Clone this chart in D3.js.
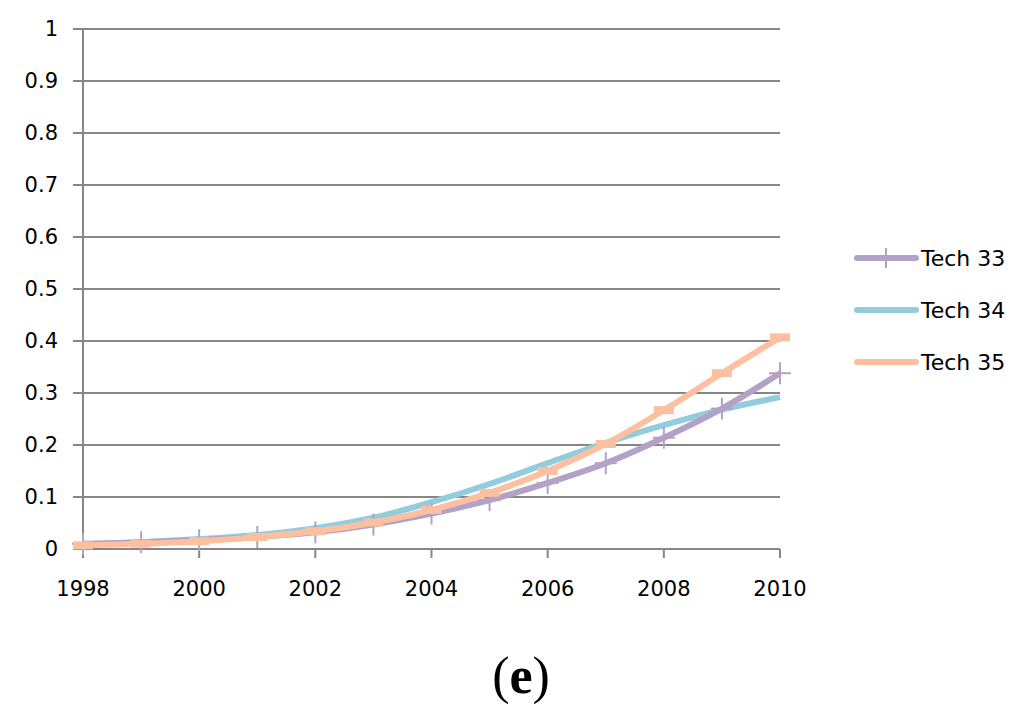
<!DOCTYPE html>
<html>
<head>
<meta charset="utf-8">
<script src="https://cdn.jsdelivr.net/npm/d3@7"></script>
<style>
  body { margin: 0; background: #fff; }
</style>
</head>
<body>
<div id="chart"></div>
<script>
// data
var years = [1998, 1999, 2000, 2001, 2002, 2003, 2004, 2005, 2006, 2007, 2008, 2009, 2010];
var tech33 = [0.010, 0.013, 0.017, 0.023, 0.032, 0.047, 0.068, 0.094, 0.127, 0.165, 0.214, 0.270, 0.338];
var tech34 = [0.008, 0.013, 0.019, 0.027, 0.040, 0.060, 0.090, 0.125, 0.165, 0.204, 0.238, 0.268, 0.292];
var tech35 = [0.007, 0.010, 0.015, 0.023, 0.034, 0.051, 0.075, 0.108, 0.150, 0.202, 0.267, 0.338, 0.407];
var yTicks = [0, 0.1, 0.2, 0.3, 0.4, 0.5, 0.6, 0.7, 0.8, 0.9, 1];
var xTicks = [1998, 2000, 2002, 2004, 2006, 2008, 2010];
var seriesNames = ["Tech 33", "Tech 34", "Tech 35"];

var width = 1024, height = 722;
var plotLeft = 83, plotRight = 780, plotTop = 29, plotBottom = 549;
var sans = "DejaVu Sans, sans-serif";

var svg = d3.select("#chart").append("svg")
  .attr("width", width)
  .attr("height", height);

var x = d3.scaleLinear().domain([1998, 2010]).range([plotLeft, plotRight]);
var y = d3.scaleLinear().domain([0, 1]).range([plotBottom, plotTop]);

// gridlines
svg.append("g")
  .selectAll("line")
  .data(yTicks)
  .enter()
  .append("line")
  .attr("x1", plotLeft - 10)
  .attr("x2", plotRight)
  .attr("y1", d => y(d))
  .attr("y2", d => y(d))
  .attr("stroke", "#868686")
  .attr("stroke-width", 2);

// y axis line
svg.append("line")
  .attr("x1", plotLeft).attr("x2", plotLeft)
  .attr("y1", plotTop).attr("y2", plotBottom)
  .attr("stroke", "#868686")
  .attr("stroke-width", 2);

// x ticks
svg.append("g")
  .selectAll("line")
  .data(xTicks)
  .enter()
  .append("line")
  .attr("x1", d => x(d)).attr("x2", d => x(d))
  .attr("y1", plotBottom).attr("y2", plotBottom + 9)
  .attr("stroke", "#868686")
  .attr("stroke-width", 2);

// y labels
svg.append("g")
  .selectAll("text")
  .data(yTicks)
  .enter()
  .append("text")
  .attr("x", 58)
  .attr("y", d => y(d) + 7)
  .attr("text-anchor", "end")
  .attr("font-family", sans)
  .attr("font-size", 21)
  .attr("fill", "#000")
  .text(d => d3.format("~g")(d));

// x labels
svg.append("g")
  .selectAll("text")
  .data(xTicks)
  .enter()
  .append("text")
  .attr("x", d => x(d))
  .attr("y", 596)
  .attr("text-anchor", "middle")
  .attr("font-family", sans)
  .attr("font-size", 21)
  .attr("fill", "#000")
  .text(d => d);

var colors = ["#b3a2c7", "#93cddd", "#fcbf9f"];
var allSeries = [tech33, tech34, tech35];

var line = d3.line()
  .x((d, i) => x(years[i]))
  .y(d => y(d))
  .curve(d3.curveCatmullRom.alpha(0.5));

// draw order: blue, purple, orange on top
[1, 0, 2].forEach(function(s) {
  svg.append("path")
    .datum(allSeries[s])
    .attr("d", line)
    .attr("fill", "none")
    .attr("stroke", colors[s])
    .attr("stroke-width", 6);

  if (s === 0) {
    var g = svg.append("g");
    allSeries[s].forEach(function(v, i) {
      g.append("line")
        .attr("x1", x(years[i])).attr("x2", x(years[i]))
        .attr("y1", y(v) - 11).attr("y2", y(v) + 11)
        .attr("stroke", colors[s]).attr("stroke-width", 2);
      g.append("line")
        .attr("x1", x(years[i]) - 11).attr("x2", x(years[i]) + 11)
        .attr("y1", y(v)).attr("y2", y(v))
        .attr("stroke", colors[s]).attr("stroke-width", 2);
    });
  }
  if (s === 2) {
    svg.append("g")
      .selectAll("rect")
      .data(allSeries[s])
      .enter()
      .append("rect")
      .attr("x", (d, i) => x(years[i]) - 10)
      .attr("y", d => y(d) - 4)
      .attr("width", 20)
      .attr("height", 8)
      .attr("fill", colors[s]);
  }
});

// legend
var legend = svg.append("g");
seriesNames.forEach(function(name, i) {
  var ly = 258 + i * 52;
  legend.append("line")
    .attr("x1", 857).attr("x2", 916)
    .attr("y1", ly).attr("y2", ly)
    .attr("stroke", colors[i])
    .attr("stroke-width", 6)
    .attr("stroke-linecap", "round");
  if (i === 0) {
    legend.append("line")
      .attr("x1", 886).attr("x2", 886)
      .attr("y1", ly - 10).attr("y2", ly + 10)
      .attr("stroke", colors[i]).attr("stroke-width", 2);
  }
  legend.append("text")
    .attr("x", 921)
    .attr("y", ly + 8)
    .attr("font-family", sans)
    .attr("font-size", 22)
    .attr("fill", "#000")
    .text(name);
});

// panel label
var lab = svg.append("text")
  .attr("x", 521)
  .attr("y", 693)
  .attr("text-anchor", "middle")
  .attr("font-family", "Liberation Serif, serif")
  .attr("font-size", 52)
  .attr("fill", "#000");
lab.append("tspan").text("(");
lab.append("tspan").attr("font-weight", "bold").text("e");
lab.append("tspan").text(")");
</script>
</body>
</html>
